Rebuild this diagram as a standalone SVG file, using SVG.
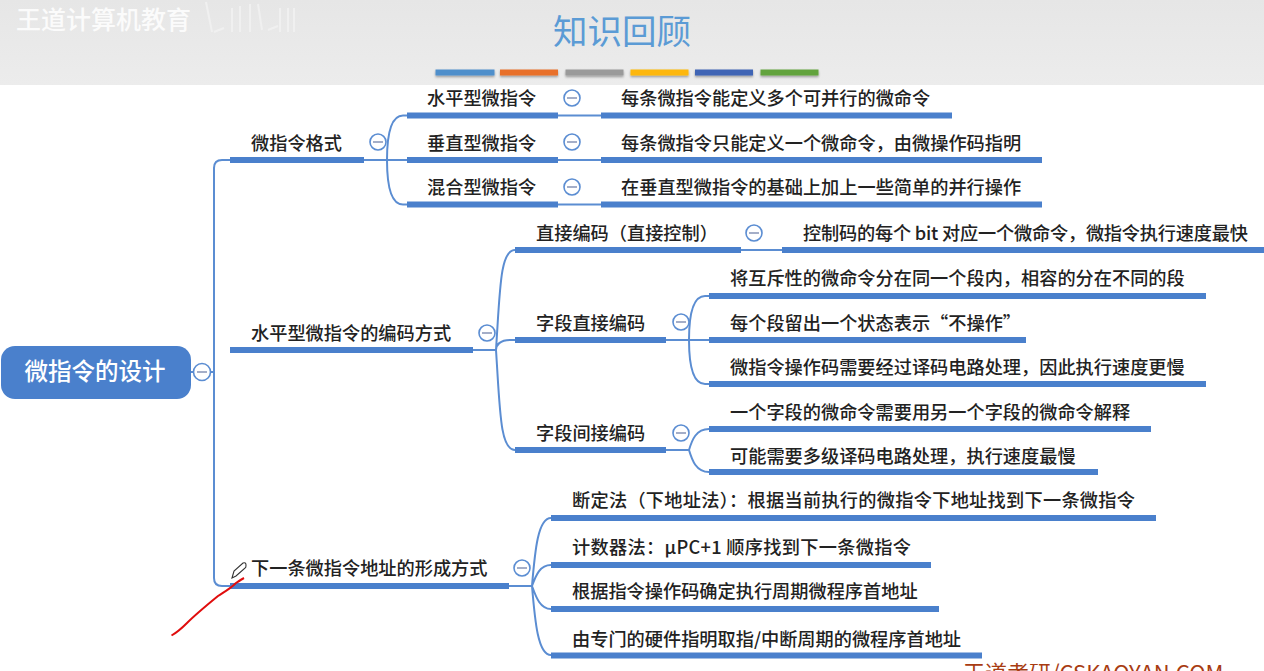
<svg xmlns="http://www.w3.org/2000/svg" width="1264" height="671" viewBox="0 0 1264 671">
<defs><filter id="sh" x="-10%" y="-50%" width="120%" height="220%"><feDropShadow dx="0" dy="1.5" stdDeviation="1" flood-color="#000" flood-opacity=".35"/></filter>
<linearGradient id="hd" x1="0" y1="0" x2="0" y2="1"><stop offset="0" stop-color="#e6e6e6"/><stop offset="1" stop-color="#ececec"/></linearGradient></defs>
<style>
text{font-family:"Noto Sans CJK SC","Noto Sans",sans-serif}
.t{font-size:18.2px;fill:#222;font-weight:500}
.b{fill:#4a80cc}
.c{fill:none;stroke:#5b8dd2;stroke-width:2}
.m{fill:#fff;stroke:#5b8dd2;stroke-width:1.6}
.d{stroke:#7d8cb0;stroke-width:1.4}
</style>
<rect width="1264" height="85" fill="url(#hd)"/>
<g fill="none" stroke="#f0f0f0" stroke-width="2"><path d="M206 2l6 30M214 32l10-4M232 8v24M240 6v26M250 4v28M258 4l4 26M268 30l10-4M280 8v24M288 8v24M294 8v24"/></g>
<text x="16" y="29" font-size="25" font-weight="500" fill="#fbfbfb">王道计算机教育</text>
<text x="622" y="44" font-size="34.5" text-anchor="middle" fill="#5b9bd5">知识回顾</text>
<g filter="url(#sh)"><rect x="435.500" y="69.500" width="59" height="6" fill="#4f8fcb"/><rect x="500" y="69.500" width="58" height="6" fill="#e8702a"/><rect x="565.500" y="69.500" width="58" height="6" fill="#9a9a9a"/><rect x="630.500" y="69.500" width="58" height="6" fill="#fdb70d"/><rect x="695" y="69.500" width="58" height="6" fill="#3f65b5"/><rect x="760.500" y="69.500" width="58" height="6" fill="#62a33c"/></g>

<g id="connectors">
<path class="c" d="M191 372H214M230 160H222Q214 160 214 168V578Q214 586 222 586H230"/>
<path class="c" d="M364 160H407M407 115.500H403C392 115.500 387 130 387 160C387 190 392 204.500 403 204.500H407"/>
<path class="c" d="M558 115.500H601M558 160H601M558 204.500H601"/>
<path class="c" d="M473 350H496M515 340H510C500 340 496 345 496 350M496 350C500 290 500 250 515 250M496 350C500 410 500 450 515 450"/>
<path class="c" d="M741 250H782"/>
<path class="c" d="M666 340H709M709 296H705C694 296 689 310 689 340C689 370 694 384 705 384H709"/>
<path class="c" d="M666 450H689M709 429C696 429 692 440 689 450C692 460 696 472 709 472"/>
<path class="c" d="M509 586H532M551 518C538 518 535 550 532 586C535 622 538 655 551 655M551 565C540 565 536 575 532 586M551 609C540 609 536 597 532 586"/>
</g>

<g id="root"><rect x="1" y="346" width="190" height="53" rx="14" class="b"/><text x="95" y="380" font-size="23.500" font-weight="500" text-anchor="middle" fill="#fff">微指令的设计</text></g>
<g id="root-toggle"><circle class="m" cx="202" cy="372" r="8.500"/><path class="d" d="M197 372h10"/></g>

<g id="n-format"><rect class="b" x="230" y="157" width="134" height="6"/><text class="t" x="251" y="149.500">微指令格式</text><circle class="m" cx="378" cy="142" r="8"/><path class="d" d="M373 142h10"/></g>
<g id="n-h"><rect class="b" x="407" y="112.500" width="151" height="6"/><text class="t" x="427" y="104.500">水平型微指令</text><circle class="m" cx="572" cy="98" r="8"/><path class="d" d="M567 98h10"/></g>
<g id="n-h1"><rect class="b" x="601" y="112.500" width="351" height="6"/><text class="t" x="621" y="104.500">每条微指令能定义多个可并行的微命令</text></g>
<g id="n-v"><rect class="b" x="407" y="157" width="151" height="6"/><text class="t" x="427" y="149.500">垂直型微指令</text><circle class="m" cx="572" cy="142" r="8"/><path class="d" d="M567 142h10"/></g>
<g id="n-v1"><rect class="b" x="601" y="157" width="441" height="6"/><text class="t" x="621" y="149.500">每条微指令只能定义一个微命令，由微操作码指明</text></g>
<g id="n-m"><rect class="b" x="407" y="201.500" width="151" height="6"/><text class="t" x="427" y="193.500">混合型微指令</text><circle class="m" cx="572" cy="187" r="8"/><path class="d" d="M567 187h10"/></g>
<g id="n-m1"><rect class="b" x="601" y="201.500" width="441" height="6"/><text class="t" x="621" y="193.500">在垂直型微指令的基础上加上一些简单的并行操作</text></g>

<g id="n-enc"><rect class="b" x="230" y="347" width="243" height="6"/><text class="t" x="251" y="339.500">水平型微指令的编码方式</text><circle class="m" cx="487" cy="333" r="8"/><path class="d" d="M482 333h10"/></g>
<g id="n-direct"><rect class="b" x="515" y="247" width="226" height="6"/><text class="t" x="536" y="239.500">直接编码（直接控制）</text><circle class="m" cx="754" cy="233" r="8"/><path class="d" d="M749 233h10"/></g>
<g id="n-direct1"><rect class="b" x="782" y="247" width="482" height="6"/><text class="t" x="803" y="239.500" textLength="445">控制码的每个 bit 对应一个微命令，微指令执行速度最快</text></g>
<g id="n-field"><rect class="b" x="515" y="337" width="151" height="6"/><text class="t" x="536" y="329.500">字段直接编码</text><circle class="m" cx="681" cy="322" r="8"/><path class="d" d="M676 322h10"/></g>
<g id="n-f1"><rect class="b" x="709" y="293" width="497" height="6"/><text class="t" x="730" y="284.500">将互斥性的微命令分在同一个段内，相容的分在不同的段</text></g>
<g id="n-f2"><rect class="b" x="709" y="337" width="317" height="6"/><text class="t" x="730" y="329.500">每个段留出一个状态表示“不操作”</text></g>
<g id="n-f3"><rect class="b" x="709" y="381" width="497" height="6"/><text class="t" x="730" y="373.500">微指令操作码需要经过译码电路处理，因此执行速度更慢</text></g>
<g id="n-ind"><rect class="b" x="515" y="447" width="151" height="6"/><text class="t" x="536" y="439.500">字段间接编码</text><circle class="m" cx="681" cy="433" r="8"/><path class="d" d="M676 433h10"/></g>
<g id="n-i1"><rect class="b" x="709" y="426" width="442" height="6"/><text class="t" x="730" y="418.500">一个字段的微命令需要用另一个字段的微命令解释</text></g>
<g id="n-i2"><rect class="b" x="709" y="469" width="389" height="6"/><text class="t" x="730" y="462.500">可能需要多级译码电路处理，执行速度最慢</text></g>

<g id="n-next"><rect class="b" x="230" y="583" width="279" height="6"/><text class="t" x="251" y="574.500">下一条微指令地址的形成方式</text><circle class="m" cx="522" cy="568" r="8"/><path class="d" d="M517 568h10"/></g>
<g id="n-a1"><rect class="b" x="551" y="515" width="605" height="6"/><text class="t" x="572" y="506.500" textLength="563">断定法（下地址法）：根据当前执行的微指令下地址找到下一条微指令</text></g>
<g id="n-a2"><rect class="b" x="551" y="562" width="380" height="6"/><text class="t" x="572" y="553.500" textLength="339">计数器法：μPC+1 顺序找到下一条微指令</text></g>
<g id="n-a3"><rect class="b" x="551" y="606" width="388" height="6"/><text class="t" x="572" y="597.500">根据指令操作码确定执行周期微程序首地址</text></g>
<g id="n-a4"><rect class="b" x="551" y="652.500" width="431" height="6"/><text class="t" x="572" y="645.500">由专门的硬件指明取指/中断周期的微程序首地址</text></g>

<path d="M232 578l2-7 9-8q3-1 3 2t-1 3l-9 8z" fill="#fff" stroke="#333" stroke-width="1.100"/>
<path d="M171.500 635.500C176 633 181 629 187 623C196 614 207 605 218 596C224 592 230 589 236 583C239 581 242 579 244 578" fill="none" stroke="#e00d0d" stroke-width="2"/>
<text x="963" y="681" font-size="22" fill="#a83c12">王道考研/CSKAOYAN.COM</text>
</svg>
